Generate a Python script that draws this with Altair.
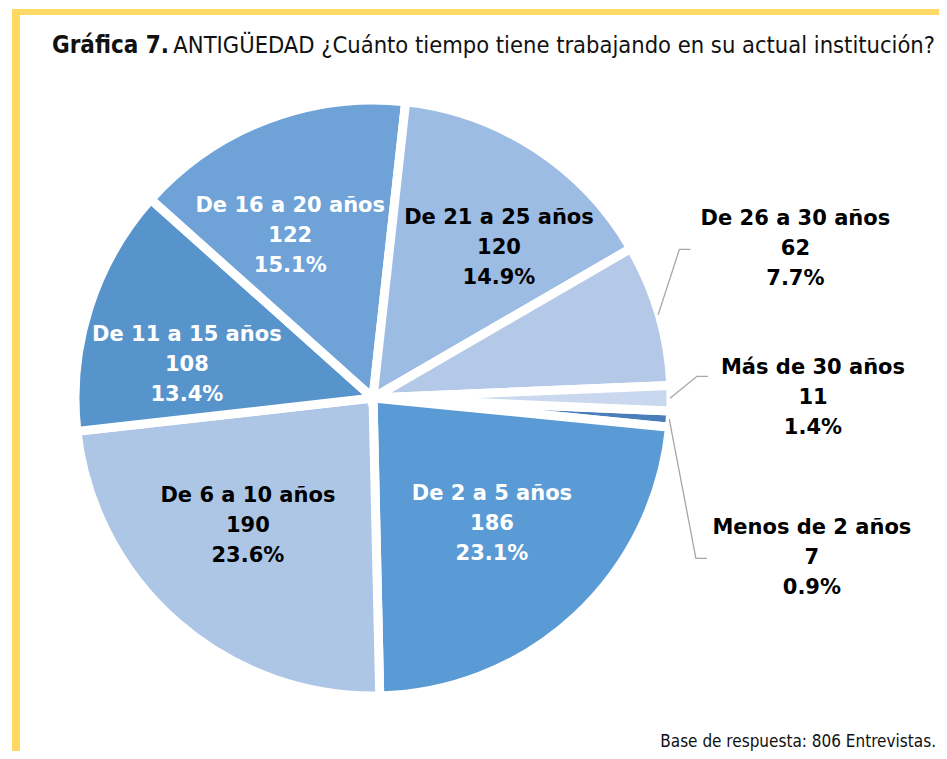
import math
import altair as alt
import pandas as pd

# ---- data ----
categories = ["Menos de 2 años", "De 2 a 5 años", "De 6 a 10 años", "De 11 a 15 años",
              "De 16 a 20 años", "De 21 a 25 años", "De 26 a 30 años", "Más de 30 años"]
counts = [7, 186, 190, 108, 122, 120, 62, 11]
percents = ["0.9%", "23.1%", "23.6%", "13.4%", "15.1%", "14.9%", "7.7%", "1.4%"]

# ---- styles ----
slice_colors = ["#4A7EBB", "#5B9BD5", "#ADC6E6", "#5894CC", "#6FA3D8", "#9DBCE3", "#B4C9E7", "#C9D8EE"]
label_colors = ["black", "white", "black", "white", "white", "black", "black", "black"]
outside = [True, False, False, False, False, False, True, True]
# label placement (best-fit style): angular nudge (deg) and distance from centre
label_nudge = [0, -0.6, 3.2, -7.7, -6.1, 6.9, 0, 0]
label_radius = [440, 173, 179, 189, 182, 196, 440, 440]

title_bold = "Gráfica 7."
title_rest = "ANTIGÜEDAD ¿Cuánto tiempo tiene trabajando en su actual institución?"
footer = "Base de respuesta: 806 Entrevistas."

# ---- layout ----
W, H = 931, 743
CX, CY = 365, 390
R_OUT = 298
START_DEG = 92.5
start_rad = math.radians(START_DEG)
LBL_SIZE = 21
LINE_H = 30

total = sum(counts)
df = pd.DataFrame({"cat": categories, "v": counts, "pct": percents,
                   "idx": list(range(len(categories))), "tcol": label_colors,
                   "out": outside, "nudge": label_nudge, "lr": label_radius})
df["cum"] = df["v"].cumsum()
df["mid"] = START_DEG + (df["cum"] - df["v"] / 2) / total * 360.0
df["label"] = df["cat"] + "\n" + df["v"].astype(str) + "\n" + df["pct"]

def polar(r, deg):
    a = math.radians(deg)
    return CX + r * math.sin(a), CY - r * math.cos(a)

lx, ly = [], []
for _, row in df.iterrows():
    x, y = polar(row["lr"], row["mid"] + row["nudge"])
    lx.append(x)
    ly.append(y)
df["lx"] = lx
df["ly"] = ly

# push outer labels apart vertically around "Más de 30 años"
ref_y = df.loc[df["cat"] == "Más de 30 años", "ly"].iloc[0]
for i, row in df.iterrows():
    if row["cat"] == "De 26 a 30 años":
        df.at[i, "ly"] = min(row["ly"], ref_y - 149)
    if row["cat"] == "Menos de 2 años":
        df.at[i, "ly"] = max(row["ly"], ref_y + 160)

# leader lines
lines = []
for _, row in df[df["out"]].iterrows():
    sx, sy = polar(R_OUT - 1, row["mid"])
    ex = row["lx"] - 105
    ey = row["ly"] if abs(sy - row["ly"]) > 30 else row["ly"] - 22
    lines += [
        {"cat": row["cat"], "o": 0, "x": sx, "y": sy},
        {"cat": row["cat"], "o": 1, "x": ex - 11, "y": ey},
        {"cat": row["cat"], "o": 2, "x": ex, "y": ey},
    ]
lines_df = pd.DataFrame(lines)

# ---- chart ----
base = alt.Chart(df)

pie = base.mark_arc(outerRadius=R_OUT, stroke="white", strokeWidth=9).encode(
    theta=alt.Theta("v:Q", stack=True,
                    scale=alt.Scale(range=[start_rad, start_rad + 2 * math.pi])),
    color=alt.Color("cat:N", scale=alt.Scale(domain=categories, range=slice_colors), legend=None),
    order=alt.Order("idx:Q"),
    x=alt.value(CX),
    y=alt.value(CY),
)

labels = base.mark_text(font="DejaVu Sans", fontWeight="bold", fontSize=LBL_SIZE,
                        lineHeight=LINE_H, align="center", baseline="middle",
                        lineBreak="\n", dy=-LINE_H).encode(
    x=alt.X("lx:Q", scale=None),
    y=alt.Y("ly:Q", scale=None),
    text="label:N",
    color=alt.Color("tcol:N", scale=None),
)

leaders = alt.Chart(lines_df).mark_line(color="#A6A6A6", strokeWidth=1.3).encode(
    x=alt.X("x:Q", scale=None),
    y=alt.Y("y:Q", scale=None),
    detail="cat:N",
    order="o:Q",
)

one = pd.DataFrame({"a": [0]})
frame_color = "#FFD966"
top_bar = alt.Chart(one).mark_rect(color=frame_color).encode(
    x=alt.value(4), x2=alt.value(W), y=alt.value(1), y2=alt.value(7))
left_bar = alt.Chart(one).mark_rect(color=frame_color).encode(
    x=alt.value(4), x2=alt.value(12), y=alt.value(1), y2=alt.value(751))
bottom_line = alt.Chart(one).mark_rect(color=frame_color).encode(
    x=alt.value(4), x2=alt.value(W), y=alt.value(749), y2=alt.value(751))

narrow = "DejaVu Sans Condensed, Liberation Sans Narrow, sans-serif"
t1 = alt.Chart(one).mark_text(text=title_bold, font=narrow, fontWeight="bold", fontSize=24,
                              align="left", baseline="alphabetic", color="#111111").encode(
    x=alt.value(44), y=alt.value(45))
t2 = alt.Chart(one).mark_text(text=title_rest, font=narrow, fontSize=23.5,
                              align="right", baseline="alphabetic", color="#111111").encode(
    x=alt.value(927), y=alt.value(45))
ft = alt.Chart(one).mark_text(text=footer, font=narrow, fontSize=17,
                              align="right", baseline="alphabetic", color="#111111").encode(
    x=alt.value(928), y=alt.value(739))

chart = alt.layer(top_bar, left_bar, bottom_line, pie, leaders, labels, t1, t2, ft).properties(
    width=W, height=H, padding=0,
    autosize=alt.AutoSizeParams(type="none"),
).configure_view(stroke=None)

chart.save("out.html", embed_options={"renderer": "svg", "actions": False})
